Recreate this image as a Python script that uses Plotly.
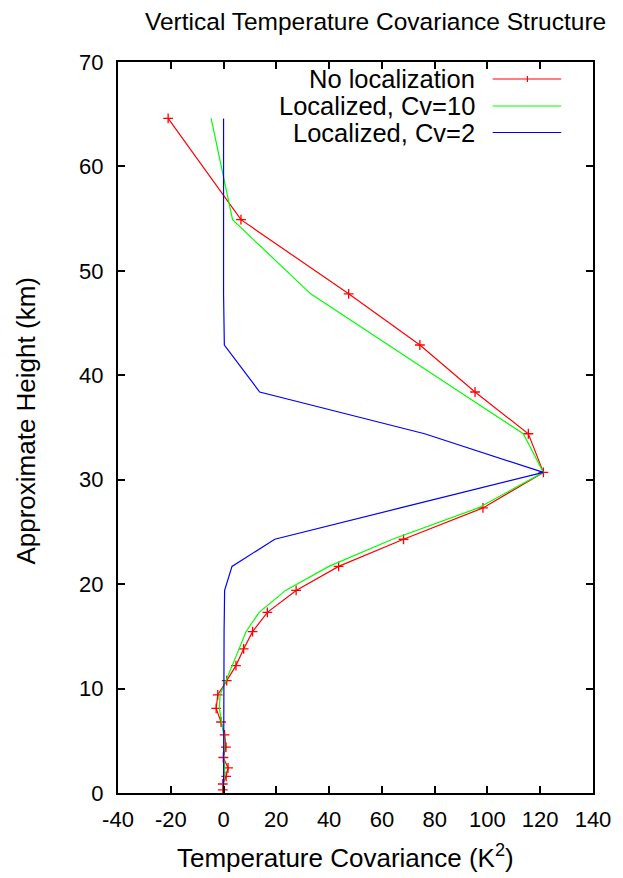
import plotly.graph_objects as go

heights = [0.3, 0.86, 1.6, 2.4, 3.4, 4.4, 5.56, 6.8, 8.1, 9.4, 10.76, 12.2, 13.8, 15.45,
           17.3, 19.4, 21.7, 24.3, 27.3, 30.7, 34.4, 38.4, 42.9, 47.8, 54.9, 64.6]
no_loc = [-0.3, -0.3, 1.0, 1.7, -0.1, 0.9, 0.4, -0.95, -2.8, -2.2, 1.2, 4.7, 7.6, 11.0,
          16.6, 27.5, 43.6, 68.2, 98.3, 121.2, 115.5, 95.3, 74.4, 47.4, 6.6, -21.0]
loc_cv10 = [-0.1, -0.1, 0.3, 0.5, 0.0, 0.3, 0.1, -0.7, -1.6, -1.3, 1.0, 3.2, 5.9, 8.5,
            13.5, 23.5, 39.9, 64.0, 96.5, 121.2, 113.6, 89.5, 62.5, 33.0, 3.4, -4.7]
loc_cv2 = [0.0, 0.0, 0.0, 0.0, 0.0, 0.0, 0.0, 0.0, 0.0, 0.0, 0.1, 0.1, 0.2, 0.2,
           0.3, 0.4, 3.2, 19.4, 67.0, 121.2, 76.2, 13.7, 0.3, 0.0, 0.0, 0.0]

names = ["No localization", "Localized, Cv=10", "Localized, Cv=2"]
colors = ["#ff0000", "#00ff00", "#0000ff"]

x_ticks = list(range(-40, 141, 20))
y_ticks = list(range(0, 71, 10))

FONT = "Liberation Sans, Arial, sans-serif"

fig = go.Figure()
fig.add_trace(go.Scatter(x=no_loc, y=heights, mode="lines+markers", name=names[0],
                         line=dict(color=colors[0], width=1.2),
                         marker=dict(symbol="cross-thin", size=7,
                                     line=dict(color=colors[0], width=1.3))))
fig.add_trace(go.Scatter(x=loc_cv10, y=heights, mode="lines", name=names[1],
                         line=dict(color=colors[1], width=1.2)))
fig.add_trace(go.Scatter(x=loc_cv2, y=heights, mode="lines", name=names[2],
                         line=dict(color=colors[2], width=1.2)))

# plot area in pixels
L, R, T, B = 118, 596, 62, 793
W, H = R - L, B - T


def px(x):
    return (x - L) / W


def py(y):
    return (B - y) / H


annotations = []
shapes = []
rows_y = [79, 106, 132.5]
for name, col, ry in zip(names, colors, rows_y):
    annotations.append(dict(x=px(479), y=py(ry), xref="paper", yref="paper",
                            text=name, showarrow=False, xanchor="right", yanchor="middle",
                            font=dict(family=FONT, size=25.5, color="black")))
    shapes.append(dict(type="line", xref="paper", yref="paper",
                       x0=px(495), x1=px(564), y0=py(ry), y1=py(ry),
                       line=dict(color=col, width=1.2)))
# small plus marker in red legend sample
shapes.append(dict(type="line", xref="paper", yref="paper",
                   x0=px(530), x1=px(530), y0=py(rows_y[0] - 3), y1=py(rows_y[0] + 3),
                   line=dict(color=colors[0], width=1.2)))

annotations.append(dict(x=px(347), y=py(856), xref="paper", yref="paper",
                        text="Temperature Covariance (K<sup>2</sup>)", showarrow=False,
                        xanchor="center", yanchor="middle",
                        font=dict(family=FONT, size=26, color="black")))
annotations.append(dict(x=px(25), y=py(421), xref="paper", yref="paper",
                        text="Approximate Height (km)", showarrow=False, textangle=-90,
                        xanchor="center", yanchor="middle",
                        font=dict(family=FONT, size=26, color="black")))
annotations.append(dict(x=px(377), y=py(22), xref="paper", yref="paper",
                        text="Vertical Temperature Covariance Structure", showarrow=False,
                        xanchor="center", yanchor="middle",
                        font=dict(family=FONT, size=24.5, color="black")))

axis_common = dict(showgrid=False, zeroline=False, showline=True, linecolor="black",
                   linewidth=2, mirror="allticks", ticks="inside", ticklen=7,
                   tickwidth=2, tickcolor="black",
                   tickfont=dict(family=FONT, size=22, color="black"))

fig.update_layout(
    width=623, height=878,
    margin=dict(l=L, r=623 - R, t=T, b=878 - B),
    paper_bgcolor="white", plot_bgcolor="white",
    showlegend=False,
    xaxis=dict(range=[-40, 140], tickvals=x_ticks, ticktext=[str(v) for v in x_ticks],
               ticklabelstandoff=6, **axis_common),
    yaxis=dict(range=[0, 70], tickvals=y_ticks, ticktext=[str(v) for v in y_ticks],
               ticklabelstandoff=8, **axis_common),
    annotations=annotations,
    shapes=shapes,
)

fig.write_html("out.html")
